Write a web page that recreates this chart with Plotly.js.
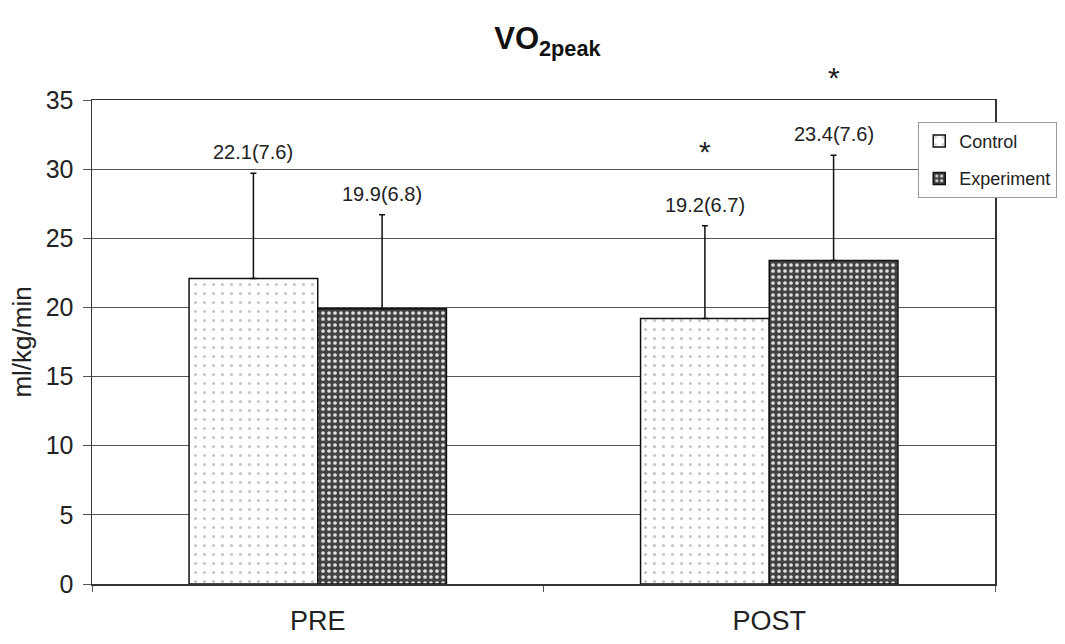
<!DOCTYPE html>
<html>
<head>
<meta charset="utf-8">
<script src="https://cdn.plot.ly/plotly-3.0.1.min.js"></script>
<style>html,body{margin:0;padding:0;background:#fff;}</style>
</head>
<body>
<div id="chart" style="width:1065px;height:644px;"></div>
<script>
const categories = ["PRE", "POST"];
const controlMean = [22.1, 19.2];
const controlSD = [7.6, 6.7];
const experimentMean = [19.9, 23.4];
const experimentSD = [6.8, 7.6];
const controlLabels = ["22.1(7.6)", "19.2(6.7)"];
const experimentLabels = ["19.9(6.8)", "23.4(7.6)"];
const asteriskControlY = [null, 31.3];
const asteriskExperimentY = [null, 36.6];
const yMax = 35;

const traces = [
  {
    type: "bar", name: "Control", x: categories, y: controlMean, legendgroup: "c",
    error_y: {type: "data", array: controlSD, symmetric: false, arrayminus: [0, 0], color: "#111", thickness: 1.5, width: 3},
    marker: {color: "#ffffff", line: {color: "#111", width: 1.5},
      pattern: {shape: ".", fgcolor: "#c8c8c8", bgcolor: "#ffffff", size: 9, solidity: 0.1}}
  },
  {
    type: "bar", name: "Experiment", x: categories, y: experimentMean, legendgroup: "e",
    error_y: {type: "data", array: experimentSD, symmetric: false, arrayminus: [0, 0], color: "#111", thickness: 1.5, width: 3},
    marker: {color: "#555555", line: {color: "#111", width: 1.5},
      pattern: {shape: ".", fgcolor: "#e0e0e0", bgcolor: "#424242", size: 6, solidity: 0.3, fillmode: "replace"}}
  }
];

const off = 64.5;
const annotations = [];
categories.forEach((c, i) => {
  annotations.push({x: c, y: controlMean[i] + controlSD[i], xref: "x", yref: "y", xshift: -off, yshift: 8,
    yanchor: "bottom", text: controlLabels[i], showarrow: false, font: {size: 20, color: "#222"}});
  annotations.push({x: c, y: experimentMean[i] + experimentSD[i], xref: "x", yref: "y", xshift: off, yshift: 8,
    yanchor: "bottom", text: experimentLabels[i], showarrow: false, font: {size: 20, color: "#222"}});
  if (asteriskControlY[i] !== null) annotations.push({x: c, y: asteriskControlY[i] / yMax, xref: "x", yref: "paper", xshift: -off,
    text: "*", showarrow: false, yanchor: "middle", font: {size: 30, color: "#222"}});
  if (asteriskExperimentY[i] !== null) annotations.push({x: c, y: asteriskExperimentY[i] / yMax, xref: "x", yref: "paper", xshift: off,
    text: "*", showarrow: false, yanchor: "middle", font: {size: 30, color: "#222"}});
});

const layout = {
  width: 1065, height: 644,
  margin: {l: 92, r: 70, t: 100, b: 60, autoexpand: false},
  paper_bgcolor: "#fff", plot_bgcolor: "#fff",
  font: {family: "Liberation Sans, Arial, sans-serif", color: "#222"},
  title: {text: "<b>VO<sub>2peak</sub></b>", x: 0.514, xanchor: "center", y: 0.94, yanchor: "middle", font: {size: 31, color: "#111"}},
  barmode: "group", bargap: 0.43, bargroupgap: 0,
  showlegend: true,
  legend: {x: 0.915, y: 0.955, xanchor: "left", yanchor: "top", bgcolor: "#fff", bordercolor: "#999", borderwidth: 1,
    font: {size: 18, color: "#222"}, itemwidth: 30, traceorder: "grouped", tracegroupgap: 11},
  xaxis: {type: "category", showline: true, linecolor: "#333", linewidth: 1.5, mirror: true,
    ticks: "outside", tickson: "boundaries", ticklen: 6, tickcolor: "#555",
    tickfont: {size: 27, color: "#222"}, showgrid: false, ticklabelstandoff: 12},
  yaxis: {range: [0, yMax], dtick: 5, showline: true, linecolor: "#333", linewidth: 1.5, mirror: true,
    ticks: "outside", ticklen: 8, tickcolor: "#555", showgrid: true, gridcolor: "#555", gridwidth: 1,
    tickfont: {size: 25, color: "#222"}, zeroline: false, ticklabelstandoff: 4,
    title: {text: "ml/kg/min", font: {size: 26, color: "#222"}, standoff: 6}},
  annotations: annotations
};

Plotly.newPlot("chart", traces, layout, {displayModeBar: false, staticPlot: true});
</script>
</body>
</html>
